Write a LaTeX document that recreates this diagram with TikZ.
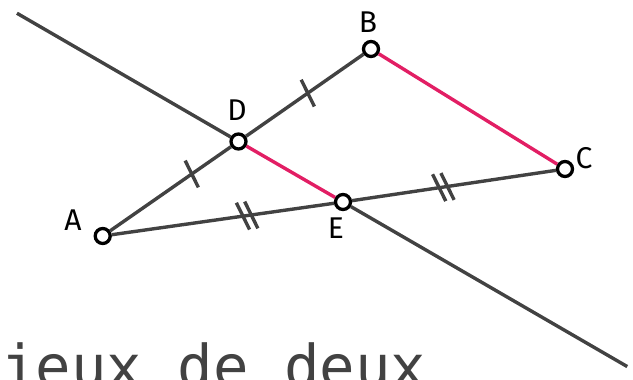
\documentclass[tikz,border=0pt]{standalone}
\usepackage{fontspec}
\setmainfont{Fira Sans}
\setmonofont{DejaVu Sans Mono}
\usetikzlibrary{calc}

\definecolor{linegray}{RGB}{66,66,66}
\definecolor{segpink}{RGB}{226,30,100}

\tikzset{
    pt/.style={circle, draw=black, fill=white, line width=3.3pt, minimum size=15pt, inner sep=0pt},
    lbl/.style={font=\fontsize{30}{30}\selectfont, inner sep=0pt},
    seg/.style={draw=linegray, line width=3.4pt},
    pinkseg/.style={draw=segpink, line width=3.4pt},
    tickmark/.style={draw=linegray, line width=3.4pt}
}

% one tick, fixed slant
\newcommand{\onetick}[1]{\draw[tickmark] ($(#1)+(-6.6,-13.4)$) -- ($(#1)+(6.6,13.4)$);}

\begin{document}
\begin{tikzpicture}[x=1pt, y=-1pt]
    \useasboundingbox (0,0) rectangle (633,380);

    % Points
    \node[pt] (a) at (102.7,236) {};
    \node[pt] (b) at (371,49) {};
    \node[pt] (c) at (565,169) {};
    \node[pt] (d) at (238.5,141.5) {};
    \node[pt] (e) at (343,202) {};

    % Labels
    \node[lbl] (la) at (73,220) {A};
    \node[lbl] (lb) at (368,22) {B};
    \node[lbl] (lc) at (584,158) {C};
    \node[lbl] (ld) at (237,110) {D};
    \node[lbl] (le) at (336,228) {E};

    % Ends of the long line
    \coordinate (l1) at ($(d)!-2.12!(e)$);
    \coordinate (l2) at ($(d)!3.72!(e)$);

    % Segments
    \draw[seg] (l1) -- (d);
    \draw[seg] (e) -- (l2);
    \draw[seg] (a) -- (d);
    \draw[seg] (d) -- (b);
    \draw[seg] (a) -- (e);
    \draw[seg] (e) -- (c);
    \draw[pinkseg] (d) -- (e);
    \draw[pinkseg] (b) -- (c);

    % Ticks
    \coordinate (tad) at ($(a)!0.656!(d)$);
    \coordinate (tdb) at ($(d)!0.523!(b)$);
    \coordinate (tae) at ($(a)!0.601!(e)$);
    \coordinate (tec) at ($(e)!0.452!(c)$);
    \onetick{tad}
    \onetick{tdb}
    \onetick{$(tae)!-4.2pt!(e)$}
    \onetick{$(tae)!4.2pt!(e)$}
    \onetick{$(tec)!-4.2pt!(c)$}
    \onetick{$(tec)!4.2pt!(c)$}

    % Caption, cut at the bottom
    \node[anchor=base west, inner sep=0pt, text=linegray, font=\ttfamily\fontsize{59}{59}\selectfont] (title) at (0,387) {jeux de deux};
\end{tikzpicture}
\end{document}
